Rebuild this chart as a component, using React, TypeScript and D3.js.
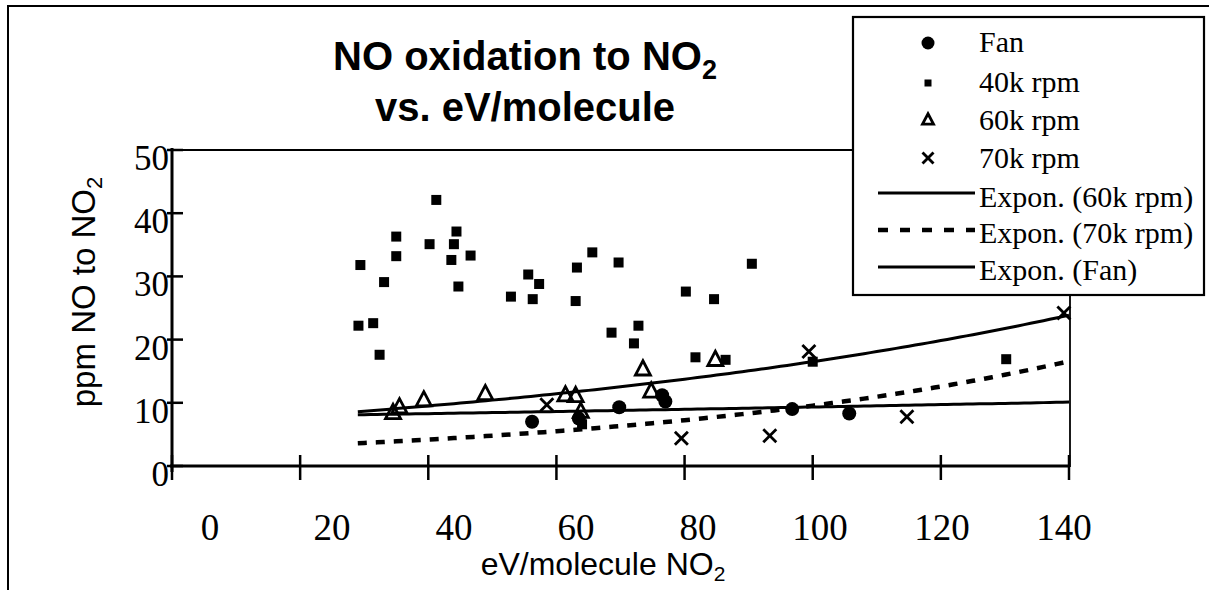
import React from 'react';
import * as d3 from 'd3';

// ---- data ----
const X_TICKS = [0, 20, 40, 60, 80, 100, 120, 140];
const Y_TICKS = [0, 10, 20, 30, 40, 50];

const FAN: [number, number][] = [
  [56.2, 7.0], [63.5, 7.5], [69.8, 9.3], [76.5, 11.2], [77.0, 10.2], [96.8, 9.0], [105.7, 8.3],
];

const RPM40: [number, number][] = [
  [29.4, 31.8], [35.0, 36.3], [35.0, 33.2], [33.1, 29.1], [29.1, 22.2], [31.4, 22.6], [32.4, 17.6],
  [40.2, 35.1], [41.25, 42.1], [43.6, 32.6], [44.0, 35.1], [44.4, 37.1], [46.6, 33.3], [44.7, 28.4],
  [52.9, 26.8], [55.6, 30.3], [57.3, 28.8], [56.3, 26.4], [63.0, 26.1], [63.2, 31.4], [65.6, 33.8],
  [68.6, 21.1], [69.7, 32.2], [72.1, 19.4], [72.8, 22.2], [80.2, 27.6], [81.7, 17.2], [84.6, 26.4],
  [86.4, 16.8], [90.5, 32.0], [100.0, 16.5], [130.2, 16.9], [64.0, 6.6],
];

const RPM60: [number, number][] = [
  [34.5, 8.4], [35.5, 9.3], [39.3, 10.4], [48.9, 11.4], [61.4, 11.2], [63.0, 11.1], [63.8, 8.6],
  [73.5, 15.3], [74.8, 11.8], [84.8, 16.8],
];

const RPM70: [number, number][] = [
  [58.5, 9.7], [79.5, 4.4], [93.3, 4.8], [99.4, 18.1], [114.7, 7.8], [139.2, 24.2],
];

// exponential trendlines y = a * exp(b * x)
const TREND_60K = { a: 6.58, b: 0.0092 };
const TREND_70K = { a: 2.41, b: 0.01377 };
const TREND_FAN = { a: 7.65, b: 0.00199 };
const TREND_X_RANGE: [number, number] = [29, 140];

const LEGEND_ITEMS = ['Fan', '40k rpm', '60k rpm', '70k rpm', 'Expon. (60k rpm)', 'Expon. (70k rpm)', 'Expon. (Fan)'];

const SERIF = '"Times New Roman", "Liberation Serif", serif';
const SANS = 'Arial, "Liberation Sans", sans-serif';

function Tri({ cx, cy, s }: { cx: number; cy: number; s: number }) {
  const h = s * 0.95;
  return (
    <path
      d={`M${cx},${cy - h * 0.6}L${cx + s / 2},${cy + h * 0.4}L${cx - s / 2},${cy + h * 0.4}Z`}
      fill="none"
      stroke="#000"
      strokeWidth={2.8}
      strokeLinejoin="miter"
    />
  );
}

function Cross({ cx, cy, s }: { cx: number; cy: number; s: number }) {
  const r = s / 2;
  return (
    <g stroke="#000" strokeWidth={2.8}>
      <line x1={cx - r} y1={cy - r} x2={cx + r} y2={cy + r} />
      <line x1={cx - r} y1={cy + r} x2={cx + r} y2={cy - r} />
    </g>
  );
}

export default function App() {
  const x = d3.scaleLinear().domain([0, 140]).range([172, 1069]);
  const xLab = d3.scaleLinear().domain([0, 140]).range([210, 1064]);
  const y = d3.scaleLinear().domain([0, 50]).range([466, 150]);

  const xs = d3.range(TREND_X_RANGE[0], TREND_X_RANGE[1] + 0.001, 1);
  const trendPath = (t: { a: number; b: number }) =>
    d3.line<number>()
      .x((v) => x(v))
      .y((v) => y(t.a * Math.exp(t.b * v)))(xs) || '';

  const legRow = [43, 83, 120, 158, 193, 230, 267];
  const legBase = [52, 92, 130, 168, 207, 243, 280];

  return (
    <svg
      width={1211}
      height={590}
      viewBox="0 0 1211 590"
      style={{ position: 'absolute', left: 0, top: 0, display: 'block', background: '#fff' }}
    >
      <rect x={0} y={0} width={1211} height={590} fill="#fff" />
      {/* outer border */}
      <line x1={7} y1={6} x2={1209} y2={6} stroke="#000" strokeWidth={2} />
      <line x1={8} y1={5} x2={8} y2={590} stroke="#000" strokeWidth={2} />

      {/* title */}
      <text x={525} y={70} textAnchor="middle" fontFamily={SANS} fontWeight="bold" fontSize={40}>
        NO oxidation to NO<tspan fontSize={27} dy={9}>2</tspan>
      </text>
      <text x={525} y={121} textAnchor="middle" fontFamily={SANS} fontWeight="bold" fontSize={40}>
        vs. eV/molecule
      </text>

      {/* plot frame */}
      <line x1={172} y1={150} x2={1070} y2={150} stroke="#000" strokeWidth={2} />
      <line x1={1070} y1={150} x2={1070} y2={467} stroke="#000" strokeWidth={1.8} />
      <line x1={172} y1={148} x2={172} y2={472} stroke="#000" strokeWidth={3} />
      <line x1={170} y1={466} x2={1070} y2={466} stroke="#000" strokeWidth={3} />

      {/* y ticks */}
      {Y_TICKS.map((t) => (
        <g key={'y' + t}>
          <line x1={167} y1={y(t)} x2={183} y2={y(t)} stroke="#000" strokeWidth={2.5} />
          <text x={169} y={y(t) + 20} textAnchor="end" fontFamily={SERIF} fontSize={35}>
            {t}
          </text>
        </g>
      ))}

      {/* x ticks */}
      {X_TICKS.map((t) => (
        <g key={'x' + t}>
          <line x1={x(t)} y1={455} x2={x(t)} y2={480} stroke="#000" strokeWidth={2.5} />
          <text x={xLab(t)} y={540} textAnchor="middle" fontFamily={SERIF} fontSize={37}>
            {t}
          </text>
        </g>
      ))}

      {/* axis titles */}
      <text x={603} y={575} textAnchor="middle" fontFamily={SANS} fontSize={32}>
        eV/molecule NO<tspan fontSize={21} dy={6}>2</tspan>
      </text>
      <text
        transform="translate(95,292) rotate(-90)"
        textAnchor="middle"
        fontFamily={SANS}
        fontSize={33}
      >
        ppm NO to NO<tspan fontSize={22} dy={7}>2</tspan>
      </text>

      {/* trendlines */}
      <path d={trendPath(TREND_60K)} fill="none" stroke="#000" strokeWidth={3} />
      <path d={trendPath(TREND_FAN)} fill="none" stroke="#000" strokeWidth={3} />
      <path d={trendPath(TREND_70K)} fill="none" stroke="#000" strokeWidth={4.5} strokeDasharray="9 9" />

      {/* markers */}
      {RPM40.map(([a, b], i) => (
        <rect key={'s' + i} x={x(a) - 5} y={y(b) - 5} width={10} height={10} fill="#000" />
      ))}
      {FAN.map(([a, b], i) => (
        <circle key={'c' + i} cx={x(a)} cy={y(b)} r={7} fill="#000" />
      ))}
      {RPM60.map(([a, b], i) => (
        <Tri key={'t' + i} cx={x(a)} cy={y(b)} s={15} />
      ))}
      {RPM70.map(([a, b], i) => (
        <Cross key={'x' + i} cx={x(a)} cy={y(b)} s={13} />
      ))}

      {/* legend */}
      <rect x={853} y={17} width={351} height={278} fill="#fff" stroke="#000" strokeWidth={2.2} />
      <circle cx={928} cy={legRow[0]} r={6.5} fill="#000" />
      <rect x={924.5} y={legRow[1] - 3.5} width={7} height={7} fill="#000" />
      <Tri cx={928} cy={legRow[2]} s={11} />
      <Cross cx={928} cy={legRow[3]} s={11} />
      <line x1={878} y1={legRow[4]} x2={975} y2={legRow[4]} stroke="#000" strokeWidth={3} />
      <line x1={878} y1={legRow[5]} x2={975} y2={legRow[5]} stroke="#000" strokeWidth={4.5} strokeDasharray="10 12" />
      <line x1={878} y1={legRow[6]} x2={975} y2={legRow[6]} stroke="#000" strokeWidth={3} />
      {LEGEND_ITEMS.map((t, i) => (
        <text key={'l' + i} x={979} y={legBase[i]} fontFamily={SERIF} fontSize={30}>
          {t}
        </text>
      ))}
    </svg>
  );
}
